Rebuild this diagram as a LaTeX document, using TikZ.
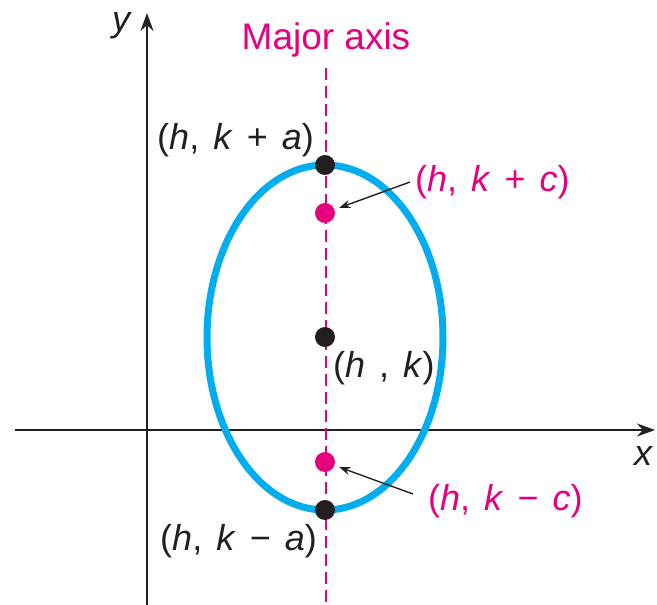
\documentclass[tikz,border=0pt]{standalone}
\usepackage{fontspec}
\setmainfont{Liberation Sans}
\usetikzlibrary{arrows.meta}
\definecolor{elcyan}{RGB}{0,173,239}
\definecolor{elmag}{RGB}{230,0,126}
\definecolor{ink}{RGB}{35,31,32}
\newcommand{\lblsp}{\hspace{14pt}}
\begin{document}
\begin{tikzpicture}[x=1pt,y=-1pt,
  lbl/.style={font=\fontsize{36}{42}\selectfont, inner sep=0pt, text=ink},
  axisline/.style={line width=1.6pt, draw=ink, -{Stealth[length=18pt,width=13pt]}},
  dot/.style={circle, fill=#1, minimum size=20pt, inner sep=0pt},
  pointer/.style={line width=1.4pt, draw=ink, -{Stealth[length=11pt,width=8pt]}, shorten >=5pt}]
\useasboundingbox (0,0) rectangle (657,605);
\fill[white] (0,0) rectangle (657,605);
% axes
\coordinate (xs) at (15,430);
\coordinate (xe) at (655,430);
\coordinate (ys) at (147,605);
\coordinate (ye) at (147,13);
\draw[axisline] (xs) -- (xe);
\draw[axisline] (ys) -- (ye);
\node[lbl, font=\fontsize{36}{42}\selectfont\itshape] (xl) at (643,456) {x};
\node[lbl, font=\fontsize{36}{42}\selectfont\itshape] (yl) at (121,26) {y};
% ellipse
\draw[elcyan, line width=7pt] (325,337.5) ellipse [x radius=118pt, y radius=172.5pt];
% major axis
\coordinate (ms) at (326,68);
\coordinate (me) at (326,605);
\draw[elmag, line width=2pt, dash pattern=on 12pt off 6pt] (ms) -- (me);
\node[lbl, text=elmag, font=\fontsize{37}{44}\selectfont] (maj) at (326,40) {Major axis};
% points
\node[dot=ink] (pta) at (325,165) {};
\node[dot=elmag] (ptc) at (325,213) {};
\node[dot=ink] (ctr) at (325,337) {};
\node[dot=elmag] (ptmc) at (325,462) {};
\node[dot=ink] (ptma) at (325,510) {};
% labels
\node[lbl, anchor=east] (lka) at (314,140) {(\textit{h},\lblsp\textit{k}\lblsp+\lblsp\textit{a})};
\node[lbl, text=elmag, anchor=west] (lkc) at (415,182) {(\textit{h},\lblsp\textit{k}\lblsp+\lblsp\textit{c})};
\node[lbl, anchor=west] (lk) at (333,368) {(\textit{h}\lblsp,\lblsp\textit{k})};
\node[lbl, text=elmag, anchor=west] (lkmc) at (428,501) {(\textit{h},\lblsp\textit{k}\lblsp−\lblsp\textit{c})};
\node[lbl, anchor=east] (lkma) at (317,541) {(\textit{h},\lblsp\textit{k}\lblsp−\lblsp\textit{a})};
% pointers
\coordinate (p1) at (410,182);
\coordinate (p2) at (413,494);
\draw[pointer] (p1) -- (ptc);
\draw[pointer] (p2) -- (ptmc);
\end{tikzpicture}
\end{document}
